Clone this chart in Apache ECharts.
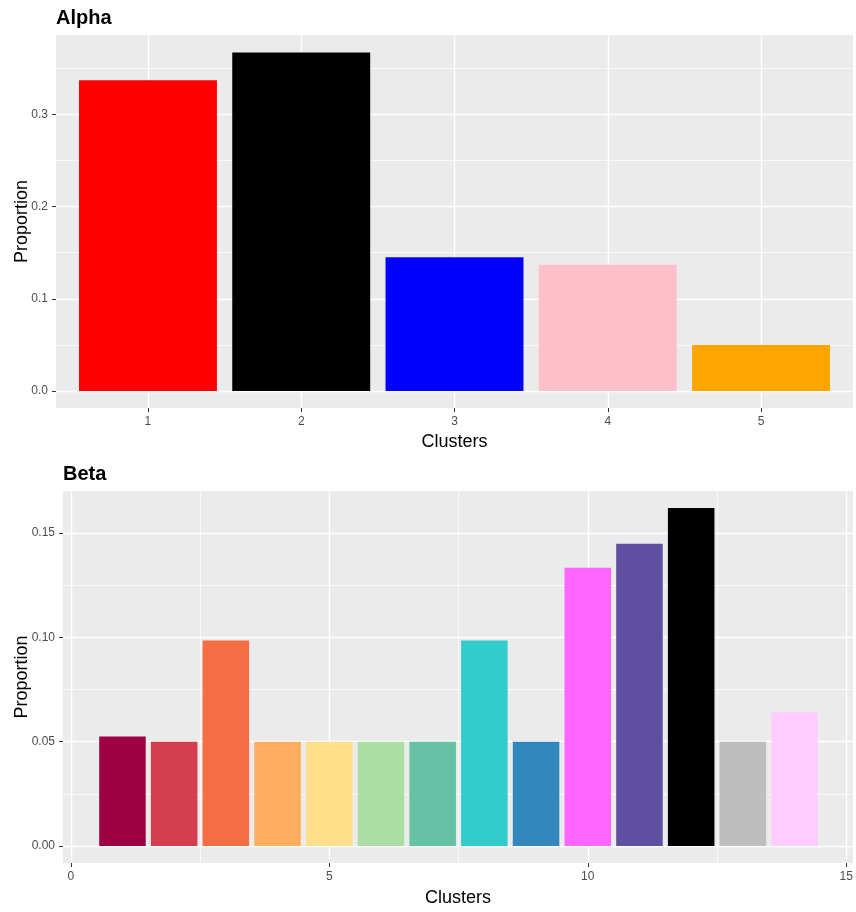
<!DOCTYPE html>
<html>
<head>
<meta charset="utf-8">
<script src="https://cdn.jsdelivr.net/npm/echarts@6/dist/echarts.min.js"></script>
<style>
html,body{margin:0;padding:0;background:#fff;}
#chart{width:856px;height:912px;}
</style>
</head>
<body>
<div id="chart"></div>
<script>
// ---- Data ----
const alphaClusters = [1, 2, 3, 4, 5];
const alphaValues = [0.337, 0.367, 0.145, 0.137, 0.050];
const alphaColors = ['#FF0000', '#000000', '#0000FF', '#FFC0CB', '#FFA500'];

const betaClusters = [1, 2, 3, 4, 5, 6, 7, 8, 9, 10, 11, 12, 13, 14];
const betaValues = [0.0525, 0.050, 0.0984, 0.050, 0.050, 0.050, 0.050, 0.0984, 0.050, 0.1332, 0.1447, 0.1619, 0.050, 0.0641];
const betaColors = ['#9E0142', '#D53E4F', '#F46D43', '#FDAE61', '#FEE08B', '#ABDDA4', '#66C2A5',
                    '#33CCCC', '#3288BD', '#FF66FF', '#5E4FA2', '#000000', '#BEBEBE', '#FFCCFF'];

const alphaXTicks = [1, 2, 3, 4, 5];
const alphaYTicks = [0, 0.1, 0.2, 0.3];
const alphaYMinor = [0.05, 0.15, 0.25, 0.35];
const betaXTicks = [0, 5, 10, 15];
const betaXMinor = [2.5, 7.5, 12.5];
const betaYTicks = [0, 0.05, 0.10, 0.15];
const betaYMinor = [0.025, 0.075, 0.125];

const titles = ['Alpha', 'Beta'];
const xTitle = 'Clusters';
const yTitle = 'Proportion';

// ---- Styles ----
const FONT = 'Liberation Sans, Arial, Helvetica, sans-serif';
const majorLine = { show: true, lineStyle: { color: '#FFFFFF', width: 1.4 } };
const minorLine = { show: true, lineStyle: { color: '#FFFFFF', width: 0.7 } };
const tickStyle = { lineStyle: { color: '#333333', width: 1 }, length: 4 };
const labelStyle = { color: '#4D4D4D', fontSize: 12, fontFamily: FONT, margin: 8 };
const nameStyle = { color: '#000000', fontSize: 18, fontFamily: FONT };

function mainAxis(gridIndex, min, max, ticks, fmt, name, nameGap) {
  return {
    type: 'value', gridIndex, min, max,
    name, nameLocation: 'middle', nameGap, nameTextStyle: nameStyle,
    nameMoveOverlap: false,
    axisLine: { show: false, onZero: false },
    axisTick: Object.assign({ show: true, customValues: ticks }, tickStyle),
    axisLabel: Object.assign({ show: true, customValues: ticks, formatter: fmt }, labelStyle),
    splitLine: majorLine
  };
}
function minorAxis(gridIndex, min, max, ticks) {
  return {
    type: 'value', gridIndex, min, max,
    axisLine: { show: false, onZero: false },
    axisTick: { show: false, customValues: ticks },
    axisLabel: { show: false, customValues: ticks },
    splitLine: minorLine
  };
}

const chart = echarts.init(document.getElementById('chart'), null, { renderer: 'canvas' });

const gridBase = { show: true, backgroundColor: '#EBEBEB', borderWidth: 0, containLabel: false, outerBoundsMode: 'none' };

const option = {
  animation: false,
  backgroundColor: '#FFFFFF',
  title: [
    { text: titles[0], left: 56, top: 8, padding: 0,
      textStyle: { fontSize: 20, fontWeight: 'bold', color: '#000', fontFamily: FONT } },
    { text: titles[1], left: 63, top: 464, padding: 0,
      textStyle: { fontSize: 20, fontWeight: 'bold', color: '#000', fontFamily: FONT } }
  ],
  grid: [
    Object.assign({ left: 56, top: 35, right: 3, height: 373 }, gridBase),
    Object.assign({ left: 63, top: 491, right: 3, height: 372 }, gridBase)
  ],
  xAxis: [
    mainAxis(0, 0.4, 5.6, alphaXTicks, v => String(v), xTitle, 25.5),
    mainAxis(1, -0.15, 15.13, betaXTicks, v => String(v), xTitle, 26),
    minorAxis(1, -0.15, 15.13, betaXMinor)
  ],
  yAxis: [
    mainAxis(0, -0.0184, 0.386, alphaYTicks, v => v.toFixed(1), yTitle, 25),
    minorAxis(0, -0.0184, 0.386, alphaYMinor),
    mainAxis(1, -0.0081, 0.170, betaYTicks, v => v.toFixed(2), yTitle, 32),
    minorAxis(1, -0.0081, 0.170, betaYMinor)
  ],
  series: [
    {
      type: 'bar', xAxisIndex: 0, yAxisIndex: 0, barWidth: '90%',
      data: alphaClusters.map((c, i) => ({ value: [c, alphaValues[i]], itemStyle: { color: alphaColors[i] } }))
    },
    {
      type: 'bar', xAxisIndex: 1, yAxisIndex: 2, barWidth: '90%',
      data: betaClusters.map((c, i) => ({ value: [c, betaValues[i]], itemStyle: { color: betaColors[i] } }))
    }
  ]
};
chart.setOption(option);
</script>
</body>
</html>
